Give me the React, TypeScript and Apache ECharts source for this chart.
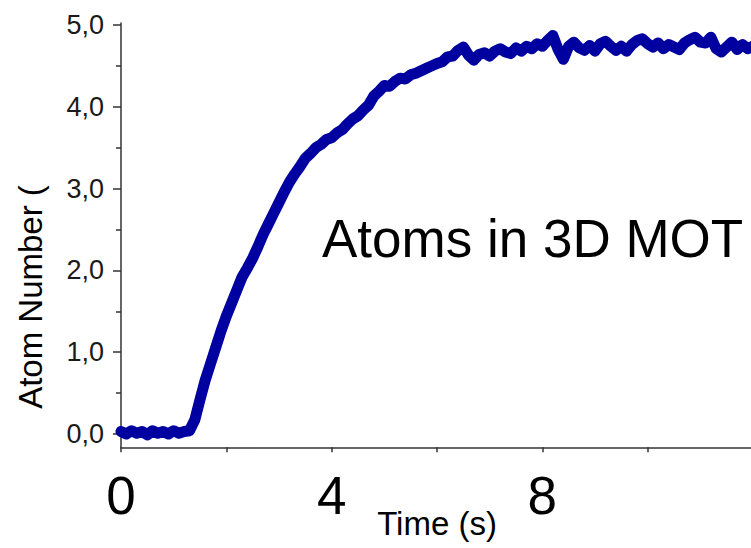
import React, { useEffect, useRef } from "react";
import * as echarts from "echarts";

const TIMES = [
  0.0, 0.1, 0.2, 0.3, 0.4, 0.5, 0.6, 0.7, 0.8, 0.9,
  1.0, 1.1, 1.2, 1.3, 1.4, 1.5, 1.6, 1.7, 1.8, 1.9,
  2.0, 2.1, 2.2, 2.3, 2.4, 2.5, 2.6, 2.7, 2.8, 2.9,
  3.0, 3.1, 3.2, 3.3, 3.4, 3.5, 3.6, 3.7, 3.8, 3.9,
  4.0, 4.1, 4.2, 4.3, 4.4, 4.5, 4.6, 4.7, 4.8, 4.9,
  5.0, 5.1, 5.2, 5.3, 5.4, 5.5, 5.6, 5.7, 5.8, 5.9,
  6.0, 6.1, 6.2, 6.3, 6.4, 6.5, 6.6, 6.7, 6.8, 6.9,
  7.0, 7.1, 7.2, 7.3, 7.4, 7.5, 7.6, 7.7, 7.8, 7.9,
  8.0, 8.1, 8.2, 8.3, 8.4, 8.5, 8.6, 8.7, 8.8, 8.9,
  9.0, 9.1, 9.2, 9.3, 9.4, 9.5, 9.6, 9.7, 9.8, 9.9,
  10.0, 10.1, 10.2, 10.3, 10.4, 10.5, 10.6, 10.7, 10.8, 10.9,
  11.0, 11.1, 11.2, 11.3, 11.4, 11.5, 11.6, 11.7, 11.8, 11.9,
  12.0,
];

const ATOMS = [
  0.03, 0.0, 0.04, 0.01, 0.03, -0.01, 0.04, 0.01, 0.03, 0.0,
  0.04, 0.01, 0.03, 0.04, 0.17, 0.42, 0.66, 0.86, 1.06, 1.26,
  1.44, 1.6, 1.76, 1.92, 2.03, 2.15, 2.29, 2.44, 2.57, 2.7,
  2.83, 2.96, 3.08, 3.18, 3.27, 3.37, 3.43, 3.5, 3.54, 3.6,
  3.62, 3.68, 3.72, 3.79, 3.85, 3.89, 3.96, 4.02, 4.13, 4.19,
  4.26, 4.25, 4.31, 4.35, 4.34, 4.39, 4.41, 4.44, 4.47, 4.5,
  4.53, 4.55, 4.61, 4.62, 4.69, 4.73, 4.63, 4.57, 4.64, 4.66,
  4.62, 4.68, 4.71, 4.67, 4.65, 4.72, 4.68, 4.74, 4.71, 4.77,
  4.74, 4.81, 4.87, 4.7, 4.58, 4.74, 4.79, 4.72, 4.69, 4.75,
  4.68, 4.77, 4.8, 4.74, 4.69, 4.74, 4.68, 4.76, 4.81, 4.83,
  4.77, 4.73, 4.78, 4.71, 4.76, 4.73, 4.7, 4.78, 4.82, 4.85,
  4.79, 4.78, 4.85, 4.71, 4.67, 4.73, 4.79, 4.7, 4.76, 4.71,
  4.74,
];

const X_TICKS = [0, 2, 4, 6, 8, 10];
const X_LABELS = [0, 4, 8];
const Y_LABELS = [0, 1, 2, 3, 4, 5];
const Y_MINOR_TICKS = [0.5, 1.5, 2.5, 3.5, 4.5];

const FONT = "Liberation Sans, Arial, sans-serif";
const Y_MIN = -0.163;
const Y_MAX = 5.024;

export default function App() {
  const ref = useRef<HTMLDivElement>(null);

  useEffect(() => {
    if (!ref.current) return;
    const chart = echarts.init(ref.current, null, { renderer: "svg" });
    const data = TIMES.map((t, i) => [t, ATOMS[i]]);
    chart.setOption({
      animation: false,
      backgroundColor: "#ffffff",
      grid: {
        left: 121,
        top: 23,
        width: 632,
        height: 424.3,
        containLabel: false,
        outerBoundsMode: "none",
      },
      xAxis: {
        type: "value",
        min: 0,
        max: 12,
        axisLine: { onZero: false, lineStyle: { color: "#333333", width: 1.5 } },
        axisTick: { customValues: X_TICKS, length: 5, lineStyle: { color: "#333333", width: 1.5 } },
        axisLabel: {
          customValues: X_LABELS,
          fontSize: 53,
          color: "#000000",
          fontFamily: FONT,
          margin: 22,
        },
        splitLine: { show: false },
        name: "Time (s)",
        nameLocation: "middle",
        nameGap: 60,
        nameMoveOverlap: false,
        nameTextStyle: { fontSize: 33, color: "#000000", fontFamily: FONT },
      },
      yAxis: [
        {
          type: "value",
          min: Y_MIN,
          max: Y_MAX,
          position: "left",
          axisLine: { show: true, onZero: false, lineStyle: { color: "#333333", width: 1.5 } },
          axisTick: { customValues: Y_LABELS, length: 8, lineStyle: { color: "#333333", width: 1.5 } },
          axisLabel: {
            customValues: Y_LABELS,
            formatter: (v: number) => v.toFixed(1).replace(".", ","),
            fontSize: 27,
            color: "#1a1a1a",
            fontFamily: FONT,
            margin: 17,
          },
          splitLine: { show: false },
        },
        {
          type: "value",
          min: Y_MIN,
          max: Y_MAX,
          position: "left",
          axisLine: { show: false, onZero: false },
          axisTick: { customValues: Y_MINOR_TICKS, length: 5, lineStyle: { color: "#333333", width: 1.5 } },
          axisLabel: { show: false },
          splitLine: { show: false },
        },
      ],
      graphic: [
        {
          type: "text",
          x: 30,
          y: 297,
          rotation: Math.PI / 2,
          style: {
            text: "Atom Number (",
            fontSize: 33,
            fontFamily: FONT,
            fill: "#000000",
            align: "center",
            verticalAlign: "middle",
          },
        },
        {
          type: "text",
          x: 322,
          y: 238,
          style: {
            text: "Atoms in 3D MOT",
            fontSize: 53,
            fontFamily: FONT,
            fill: "#000000",
            align: "left",
            verticalAlign: "middle",
          },
        },
      ],
      series: [
        {
          type: "line",
          data,
          showSymbol: false,
          smooth: false,
          lineStyle: { color: "#0000A0", width: 11, join: "round", cap: "round" },
          itemStyle: { color: "#0000A0" },
          z: 1,
        },
      ],
    });
    return () => chart.dispose();
  }, []);

  return (
    <div
      ref={ref}
      style={{ position: "absolute", left: 0, top: 0, width: 751, height: 548 }}
    />
  );
}
